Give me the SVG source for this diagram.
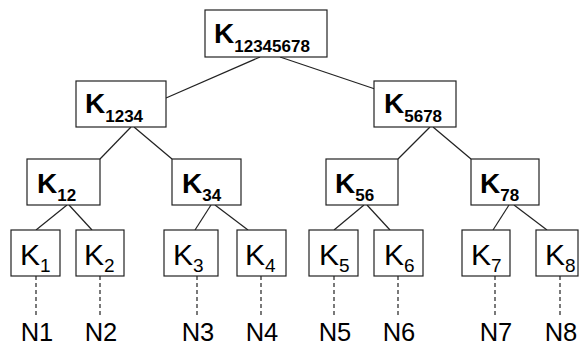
<svg xmlns="http://www.w3.org/2000/svg" width="579" height="346" viewBox="0 0 579 346">
<style>
.box{fill:#fff;stroke:#222;stroke-width:1.2}
.ln{stroke:#222;stroke-width:1.2;fill:none}
.dl{stroke:#222;stroke-width:1.2;stroke-dasharray:4,3;fill:none}
.kb{font-family:"Liberation Sans",Arial,sans-serif;font-weight:bold;font-size:28px;fill:#000}
.sb{font-size:17px}
.kr{font-family:"Liberation Sans",Arial,sans-serif;font-size:30px;fill:#000}
.sr{font-size:19px}
.n{font-family:"Liberation Sans",Arial,sans-serif;font-size:25.5px;fill:#000;text-anchor:middle}
</style>
<g id="connectors">
<line class="ln" x1="260" y1="57" x2="166" y2="98"/>
<line class="ln" x1="280" y1="57" x2="375" y2="89"/>
<line class="ln" x1="131" y1="127" x2="100" y2="159"/>
<line class="ln" x1="134" y1="127" x2="172" y2="159"/>
<line class="ln" x1="430" y1="127" x2="398" y2="159"/>
<line class="ln" x1="433" y1="127" x2="471" y2="159"/>
<line class="ln" x1="67" y1="205" x2="36" y2="230"/>
<line class="ln" x1="69" y1="205" x2="92" y2="230"/>
<line class="ln" x1="211" y1="205" x2="195" y2="230"/>
<line class="ln" x1="215" y1="205" x2="248" y2="230"/>
<line class="ln" x1="364" y1="205" x2="334" y2="230"/>
<line class="ln" x1="367" y1="205" x2="390" y2="230"/>
<line class="ln" x1="509" y1="205" x2="493" y2="230"/>
<line class="ln" x1="514" y1="205" x2="547" y2="230"/>
<line class="dl" x1="36" y1="276" x2="36" y2="317"/>
<line class="dl" x1="100" y1="276" x2="100" y2="317"/>
<line class="dl" x1="197" y1="276" x2="197" y2="317"/>
<line class="dl" x1="261" y1="276" x2="261" y2="317"/>
<line class="dl" x1="334" y1="276" x2="334" y2="317"/>
<line class="dl" x1="398" y1="276" x2="398" y2="317"/>
<line class="dl" x1="495" y1="276" x2="495" y2="317"/>
<line class="dl" x1="560" y1="276" x2="560" y2="317"/>
</g>
<g id="K12345678"><rect class="box" x="205" y="10" width="122" height="47"/><text class="kb" x="214" y="43">K<tspan class="sb" y="52">12345678</tspan></text></g>
<g id="K1234"><rect class="box" x="76" y="81" width="90" height="46"/><text class="kb" x="85" y="113">K<tspan class="sb" y="122">1234</tspan></text></g>
<g id="K5678"><rect class="box" x="374" y="81" width="82" height="46"/><text class="kb" x="384" y="113">K<tspan class="sb" y="122">5678</tspan></text></g>
<g id="K12"><rect class="box" x="27" y="159" width="73" height="46"/><text class="kb" x="37" y="193">K<tspan class="sb" y="201">12</tspan></text></g>
<g id="K34"><rect class="box" x="172" y="159" width="69" height="46"/><text class="kb" x="182" y="193">K<tspan class="sb" y="201">34</tspan></text></g>
<g id="K56"><rect class="box" x="326" y="159" width="72" height="46"/><text class="kb" x="335" y="193">K<tspan class="sb" y="201">56</tspan></text></g>
<g id="K78"><rect class="box" x="471" y="159" width="68" height="46"/><text class="kb" x="480" y="193">K<tspan class="sb" y="201">78</tspan></text></g>
<g id="K1"><rect class="box" x="11" y="230" width="49" height="46"/><text class="kr" x="20" y="265">K<tspan class="sr" y="272">1</tspan></text></g>
<g id="K2"><rect class="box" x="76" y="230" width="48" height="46"/><text class="kr" x="84" y="265">K<tspan class="sr" y="272">2</tspan></text></g>
<g id="K3"><rect class="box" x="164" y="230" width="54" height="46"/><text class="kr" x="173" y="265">K<tspan class="sr" y="272">3</tspan></text></g>
<g id="K4"><rect class="box" x="237" y="230" width="49" height="46"/><text class="kr" x="245" y="265">K<tspan class="sr" y="272">4</tspan></text></g>
<g id="K5"><rect class="box" x="309" y="230" width="49" height="46"/><text class="kr" x="319" y="265">K<tspan class="sr" y="272">5</tspan></text></g>
<g id="K6"><rect class="box" x="374" y="230" width="49" height="46"/><text class="kr" x="384" y="265">K<tspan class="sr" y="272">6</tspan></text></g>
<g id="K7"><rect class="box" x="462" y="230" width="48" height="46"/><text class="kr" x="471" y="265">K<tspan class="sr" y="272">7</tspan></text></g>
<g id="K8"><rect class="box" x="536" y="230" width="42" height="46"/><text class="kr" x="545" y="265">K<tspan class="sr" y="272">8</tspan></text></g>
<g id="N1"><text class="n" x="37" y="341">N1</text></g>
<g id="N2"><text class="n" x="101" y="341">N2</text></g>
<g id="N3"><text class="n" x="198" y="341">N3</text></g>
<g id="N4"><text class="n" x="262" y="341">N4</text></g>
<g id="N5"><text class="n" x="335" y="341">N5</text></g>
<g id="N6"><text class="n" x="399" y="341">N6</text></g>
<g id="N7"><text class="n" x="496" y="341">N7</text></g>
<g id="N8"><text class="n" x="561" y="341">N8</text></g>
</svg>
